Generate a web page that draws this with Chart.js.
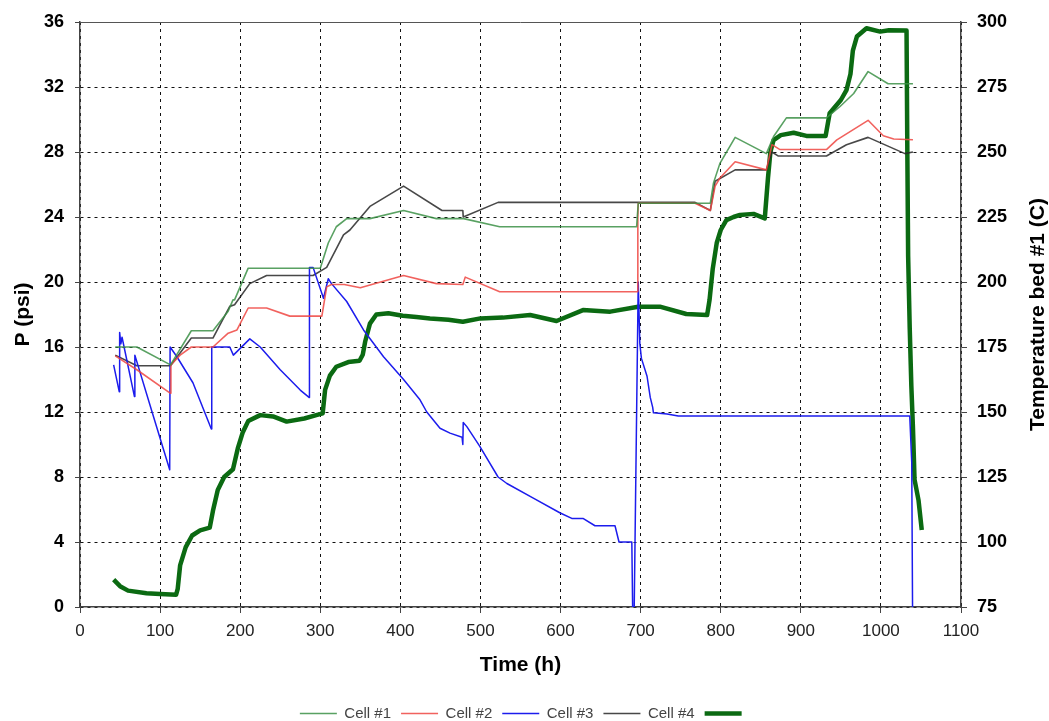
<!DOCTYPE html>
<html>
<head>
<meta charset="utf-8">
<script src="https://cdn.jsdelivr.net/npm/chart.js@4.4.0/dist/chart.umd.min.js"></script>
<style>html,body{margin:0;padding:0;background:#fff;}canvas{display:block;}</style>
</head>
<body>
<canvas id="c" width="1049" height="721"></canvas>
<script>
// ---- tick labels ----
const timeTicks = [0,100,200,300,400,500,600,700,800,900,1000,1100];
const pressureTicks = [0,4,8,12,16,20,24,28,32,36];
const tempTicks = [75,100,125,150,175,200,225,250,275,300];
const seriesNames = ['Cell #1','Cell #2','Cell #3','Cell #4',''];
const xTitle = 'Time (h)';
const yTitle = 'P (psi)';
const y2Title = 'Temperature bed #1 (C)';

// ---- series values ----
const cell1Time = [44,71,113,139,166,185,191,193,210,300,310,320,333,362,404,445,479,524,695,697,787,791,799,818,857,866,882,932,949,966,984,1009,1040];
const cell1P    = [16.0,16.0,14.9,17.0,17.0,18.2,18.9,18.9,20.85,20.85,22.4,23.4,23.9,23.9,24.4,23.9,23.9,23.4,23.4,24.85,24.85,26.1,27.3,28.9,27.9,28.95,30.1,30.1,30.8,31.6,32.95,32.2,32.2];

const cell2Time = [44,71,113,113.5,125,139,166,185,196,210,233,262,302,308,314,330,350,404,445,478,481,524,696,696.5,697,768,787,793,799,818,857,864,874,932,945,984,1003,1016,1040];
const cell2P    = [15.45,14.6,13.15,14.9,15.5,16.0,16.0,16.85,17.05,18.4,18.4,17.9,17.9,19.7,19.85,19.85,19.65,20.4,19.9,19.85,20.3,19.4,19.4,24.0,24.85,24.85,24.4,25.9,26.4,27.4,26.9,28.45,28.15,28.15,28.75,29.95,29.0,28.8,28.75];

const cell3Time = [42,49,49.5,51,52.5,68,68.5,90,112,112.5,
  121,141,164,164.5,187,191.5,212,225,250,275,
  286,286.5,291,304,310,314,333,354,379,404,
  424.5,433,449.5,462,477,478,478.5,483,499,522,
  533,566,599,614,628,643,668,673,689,690,
  692,697,699,701,708,712,715,716,733,747,
  1036,1038.5,1039.5];
const cell3P = [14.9,13.25,16.9,16.2,16.6,12.95,15.5,12.0,8.45,16.0,
  15.4,13.8,10.95,16.0,16.0,15.5,16.5,16.0,14.6,13.35,
  12.9,20.9,20.9,19.0,20.2,19.9,18.8,17.05,15.4,14.0,
  12.75,12.0,11.0,10.7,10.45,10.0,11.35,11.1,9.9,8.0,
  7.6,6.7,5.8,5.45,5.45,5.0,5.0,4.0,4.0,0,
  0,20.0,16.2,15.3,14.2,12.9,12.3,11.95,11.88,11.75,
  11.75,8.9,0];

const cell4Time = [44,71,113,139,166,187,193,212,233,291,308,329,337,362,404,452,478,478.5,522,768,787,793,818,857,864,872,932,957,984,1030,1040];
const cell4P    = [15.5,14.85,14.85,16.55,16.55,18.5,18.6,19.9,20.4,20.4,20.9,22.9,23.2,24.65,25.9,24.4,24.4,24.0,24.9,24.9,24.4,26.2,26.9,26.9,28.0,27.75,27.75,28.45,28.9,27.9,28.0];

const tempTime = [42,50,60,83,100,120,122,125,132,140,
  150,162,166,172,180,191,197,203,210,225,
  241,258,280,295,303,306,312,320,335,349,
  353,356,362,370,385,403,420,437,460,478,
  500,528,562,595,628,662,697,724,757,783,
  786,790,795,800,807,816,824,841,855,859,
  862,866,875,891,907,931,936,950,957,962,
  965,970,982,999,1010,1032,1033,1034,1036,1038,
  1040,1042,1047,1051];
const tempC = [85.5,83,81.3,80.3,80,79.7,82,91,98,102.5,
  104.5,105.5,112,120,125,128,136,142,146.5,148.8,
  148.3,146.3,147.5,148.8,149.5,158.5,164,167.4,169.2,169.7,
  172,177,184,187.5,188,187,186.5,186,185.5,184.7,
  186,186.3,187.3,185,189.2,188.6,190.5,190.5,187.7,187.3,
  193,205,215,220,223.8,225,225.8,226.2,224.5,240,
  250,254.6,256.5,257.4,256.2,256.2,264.9,270,273.8,280,
  289,294.4,297.6,296.3,296.8,296.7,250,210,182,160,
  144,124,116,104.6];

// ---- build chart ----
const FONT = '"Liberation Sans", Arial, Helvetica, sans-serif';
const pts = (xs, ys) => xs.map((x, i) => ({x, y: ys[i]}));
function ds(label, xs, ys, color, width, axis) {
  return {
    label, data: pts(xs, ys), yAxisID: axis,
    borderColor: color, backgroundColor: color, borderWidth: width,
    pointBorderColor: color, pointBackgroundColor: color, pointBorderWidth: width,
    pointRadius: 0, pointHoverRadius: 0, pointStyle: 'line',
    tension: 0, fill: false, borderJoinStyle: 'round', borderCapStyle: 'butt'
  };
}

const extras = {
  id: 'extras',
  afterDraw(chart) {
    const {ctx, chartArea: a} = chart;
    ctx.save();
    ctx.strokeStyle = '#555';
    ctx.lineWidth = 1;
    ctx.beginPath();
    ctx.moveTo(a.left, Math.round(a.top) + 0.5);
    ctx.lineTo(a.right, Math.round(a.top) + 0.5);
    ctx.stroke();
    ctx.translate(1038, (a.top + a.bottom) / 2);
    ctx.rotate(-Math.PI / 2);
    ctx.font = 'bold 21px ' + FONT;
    ctx.fillStyle = '#000';
    ctx.textAlign = 'center';
    ctx.textBaseline = 'middle';
    ctx.fillText(y2Title, 0, 0);
    ctx.restore();
  }
};

new Chart(document.getElementById('c'), {
  type: 'line',
  data: {
    datasets: [
      ds(seriesNames[0], cell1Time, cell1P, 'rgba(60,145,70,0.85)', 1.6, 'y'),
      ds(seriesNames[1], cell2Time, cell2P, 'rgba(238,70,66,0.85)', 1.6, 'y'),
      ds(seriesNames[2], cell3Time, cell3P, '#1c1ced', 1.5, 'y'),
      ds(seriesNames[3], cell4Time, cell4P, 'rgba(40,40,40,0.85)', 1.6, 'y'),
      ds(seriesNames[4], tempTime, tempC, '#0b6a12', 4.5, 'y2')
    ]
  },
  options: {
    responsive: false,
    animation: false,
    devicePixelRatio: 1,
    layout: { padding: { top: 22, left: 0, right: 0, bottom: -10 } },
    plugins: {
      tooltip: { enabled: false },
      legend: {
        position: 'bottom',
        labels: {
          usePointStyle: true, pointStyleWidth: 37, padding: 10,
          color: '#444', font: { family: FONT, size: 15 }
        }
      }
    },
    scales: {
      x: {
        type: 'linear', min: 0, max: 1100,
        afterBuildTicks: s => { s.ticks = timeTicks.map(v => ({value: v})); },
        afterFit: s => { const lh = (s.chart.legend && s.chart.legend.height) || 35; s.height = 731 - lh - 607; },
        ticks: { color: '#222', font: { family: FONT, size: 17 }, padding: 8, maxRotation: 0, autoSkip: false,
                 callback: v => String(v) },
        grid: { color: '#111', lineWidth: 1, tickLength: 6, tickColor: '#444' },
        border: { display: true, color: '#444', width: 1.5, dash: [3, 4] },
        title: { display: true, text: xTitle, color: '#000', font: { family: FONT, size: 21, weight: 'bold' }, padding: { top: 0, bottom: 18 } }
      },
      y: {
        type: 'linear', position: 'left', min: 0, max: 36,
        afterBuildTicks: s => { s.ticks = pressureTicks.map(v => ({value: v})); },
        afterFit: s => { s.width = 80; },
        ticks: { color: '#000', font: { family: FONT, size: 18, weight: 'bold' }, padding: 11, autoSkip: false,
                 callback: v => String(v) },
        grid: { color: '#111', lineWidth: 1, tickLength: 5, tickColor: '#444' },
        border: { display: true, color: '#444', width: 1.5, dash: [3, 4] },
        title: { display: true, text: yTitle, color: '#000', font: { family: FONT, size: 21, weight: 'bold' }, padding: { top: 11, bottom: 0 } }
      },
      y2: {
        type: 'linear', position: 'right', min: 75, max: 300,
        afterBuildTicks: s => { s.ticks = tempTicks.map(v => ({value: v})); },
        afterFit: s => { s.width = 88; },
        ticks: { color: '#000', font: { family: FONT, size: 18, weight: 'bold' }, padding: 10, autoSkip: false,
                 callback: v => String(v) },
        grid: { drawOnChartArea: false, tickLength: 6, tickColor: '#444', color: '#444' },
        border: { display: true, color: '#444', width: 1.5 }
      }
    }
  },
  plugins: [extras]
});
</script>
</body>
</html>
